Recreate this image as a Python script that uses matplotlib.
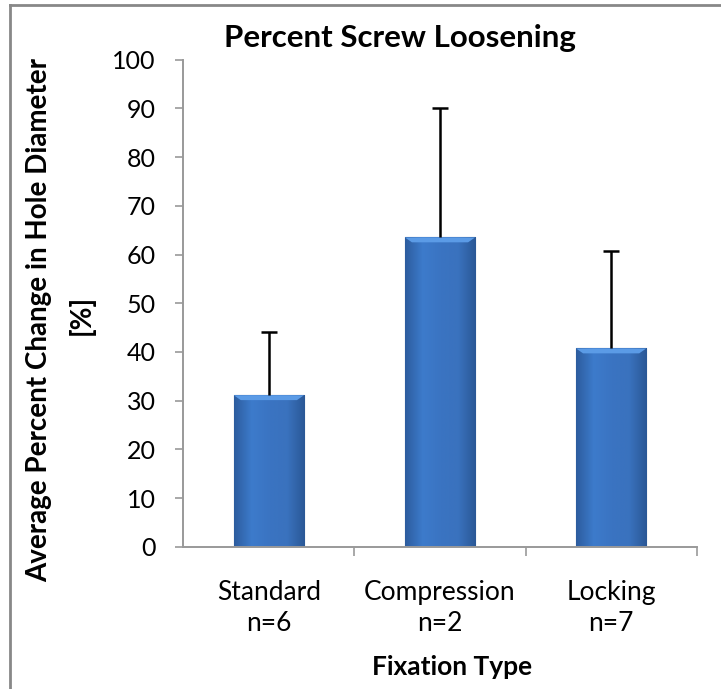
"""
Percent Screw Loosening: среднее изменение диаметра отверстия по типу фиксации
"""

import numpy as np
import matplotlib.pyplot as plt
from matplotlib.colors import LinearSegmentedColormap
from matplotlib.lines import Line2D

# Данные
categories = ["Standard\nn=6", "Compression\nn=2", "Locking\nn=7"]
means = [31.1, 63.5, 40.7]
errors = [12.9, 26.5, 20.0]

plt.rcParams["font.family"] = ["Lato", "DejaVu Sans"]

W, H = 721, 689
fig = plt.figure(figsize=(W / 100, H / 100), dpi=100)
ax = fig.add_axes([183.3 / W, 1 - 546.7 / H, (696.7 - 183.3) / W, (546.7 - 59.7) / H])

x = np.arange(len(categories))
bars = ax.bar(x, means, width=0.41, color="#3A72BE", edgecolor="#28558f",
              linewidth=0.8, zorder=2)

# градиент по ширине столбца (имитация объёмной заливки)
cmap = LinearSegmentedColormap.from_list(
    "bevel", ["#2c5c9e", "#3d7bcb", "#3a74c2", "#3a72be", "#2a5896"])
grad = np.linspace(0, 1, 256).reshape(1, -1)
for b in bars:
    x0, w, h = b.get_x(), b.get_width(), b.get_height()
    im = ax.imshow(grad, extent=[x0, x0 + w, 0, h], aspect="auto",
                   cmap=cmap, zorder=2.5)
    im.set_clip_path(b)
    # светлая фаска сверху
    ax.fill([x0, x0 + w, x0 + w * 0.9, x0 + w * 0.1],
            [h, h, h - 1.0, h - 1.0], color="#5b9be6", zorder=2.6, lw=0)

# только верхняя половина "усов"
_, caps, _ = ax.errorbar(x, means, yerr=[np.zeros(len(errors)), errors],
                         fmt="none", ecolor="black", elinewidth=1.8,
                         capsize=6, capthick=1.8, zorder=3)
caps[0].set_visible(False)

ax.set_xlim(-0.5, 2.5)
ax.set_ylim(0, 100)
ax.set_yticks(np.arange(0, 101, 10))
ax.tick_params(axis="y", labelsize=18, length=6, width=1.2, color="#999999",
               direction="out", pad=14)
ax.set_xticks(x)
ax.set_xticklabels(categories, fontsize=19, linespacing=1.3)
ax.tick_params(axis="x", length=0, pad=24)
ax.set_xticks([0.5, 1.5, 2.5], minor=True)
ax.tick_params(axis="x", which="minor", length=6.5, width=1.2, color="#999999")

for s in ["top", "right"]:
    ax.spines[s].set_visible(False)
for s in ["left", "bottom"]:
    ax.spines[s].set_color("#999999")
    ax.spines[s].set_linewidth(1.4)

fig.text(400 / W, 1 - 38 / H, "Percent Screw Loosening", ha="center",
         va="center", fontsize=22.5, fontweight="bold")
fig.text(452 / W, 1 - 667 / H, "Fixation Type", ha="center", va="center",
         fontsize=19, fontweight="bold")
fig.text(39 / W, 1 - 320 / H, "Average Percent Change in Hole Diameter",
         ha="center", va="center", rotation=90, fontsize=20, fontweight="bold")
fig.text(81 / W, 1 - 315 / H, "[%]", ha="center", va="center", rotation=90,
         fontsize=20, fontweight="bold")

# рамка области диаграммы (видны только верх и левый край)
fig.add_artist(Line2D([10 / W, 1], [1 - 4.5 / H, 1 - 4.5 / H], color="#888888", lw=2))
fig.add_artist(Line2D([10 / W, 10 / W], [0, 1 - 4.5 / H], color="#888888", lw=2))

plt.savefig("out.png", dpi=100)
